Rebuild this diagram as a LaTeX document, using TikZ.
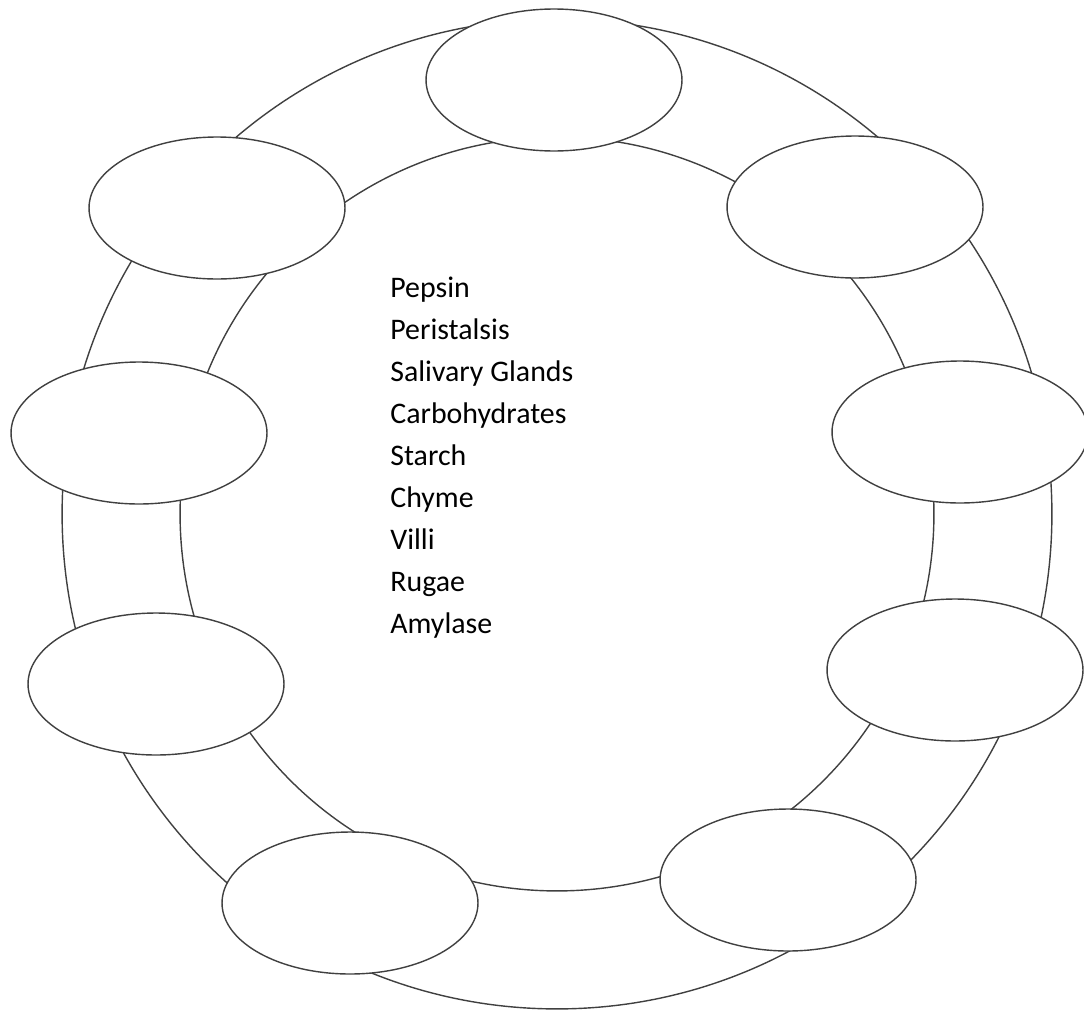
\documentclass[tikz,border=0pt]{standalone}
\usepackage{fontspec}
\setmainfont{Carlito}
\usepackage{tikz}
\usetikzlibrary{shapes.geometric, positioning}
\definecolor{ringline}{gray}{0.25}

\begin{document}
\begin{tikzpicture}[
  x=0.02cm, y=-0.02cm,
  ring/.style={draw=ringline, line width=0.8pt},
  slot/.style={ellipse, draw=ringline, line width=0.8pt, fill=white, minimum width=5.12cm, minimum height=2.84cm, inner sep=0pt},
  term/.style={anchor=base west, inner sep=0pt, font=\fontsize{17}{20}\selectfont}
]
  \useasboundingbox (0,0) rectangle (1084,1011);

  % Anneau
  \node[coordinate] (c) at (557,514) {};
  \draw[ring] (c) circle[radius=9.9cm];
  \draw[ring] (c) circle[radius=7.54cm];

  % Ellipses autour de l'anneau
  \foreach \n/\x/\y in {1/554/80, 2/217/208, 3/855/207, 4/139/433, 5/960/432,
                        6/156/684, 7/955/670, 8/350/903, 9/788/880} {
    \node[slot] (s\n) at (\x,\y) {};
  }

  % Liste de mots
  \foreach \w [count=\i] in {Pepsin, Peristalsis, Salivary Glands, Carbohydrates,
                             Starch, Chyme, Villi, Rugae, Amylase} {
    \node[term] (w\i) at (390, 255+\i*42) {\w};
  }
\end{tikzpicture}
\end{document}
